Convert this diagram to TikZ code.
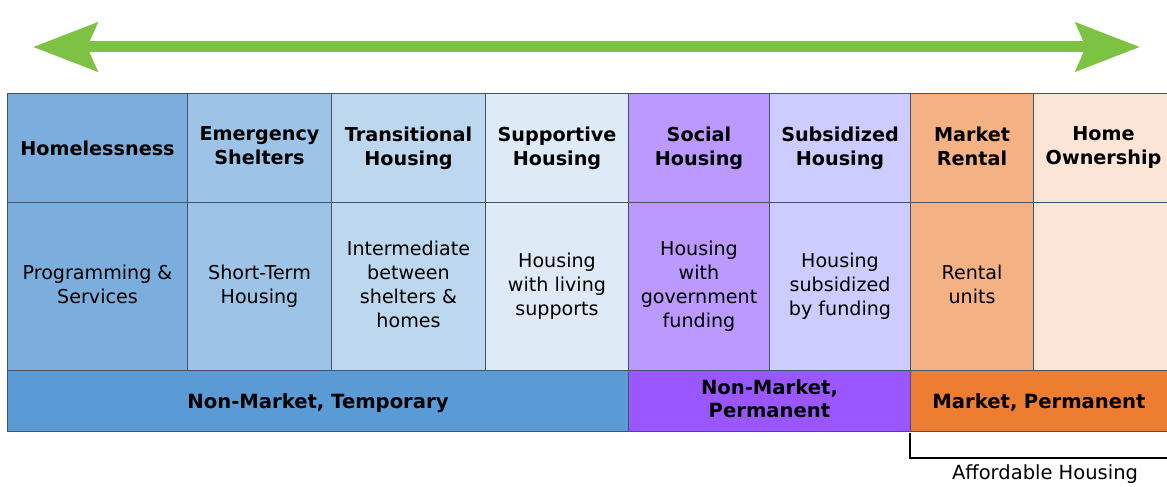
\documentclass[tikz,border=0pt]{standalone}
\usepackage{fontspec}
\setmainfont{DejaVu Sans}
\usetikzlibrary{arrows.meta}
\definecolor{arrowgreen}{HTML}{7DC242}
\definecolor{gridc}{HTML}{44546A}
\definecolor{cHomeless}{HTML}{7BAEDC}
\definecolor{cEmergency}{HTML}{9DC3E6}
\definecolor{cTransit}{HTML}{BDD7EE}
\definecolor{cSupport}{HTML}{DEEBF7}
\definecolor{cSocial}{HTML}{BB99FF}
\definecolor{cSubsid}{HTML}{CCCCFF}
\definecolor{cRental}{HTML}{F4B183}
\definecolor{cOwner}{HTML}{FBE5D6}
\definecolor{cTemp}{HTML}{5B9BD5}
\definecolor{cPerm}{HTML}{9B57FF}
\definecolor{cMarket}{HTML}{ED7D31}
\tikzset{
  cell/.style={draw=gridc, line width=1pt, anchor=north west, inner sep=0pt, align=center, text=black,
    execute at begin node={\rule{0pt}{19.8pt}}, execute at end node={\rule[-4.2pt]{0pt}{4.2pt}}},
  head/.style={cell, minimum height=109pt, font=\fontsize{19.2}{24}\selectfont\bfseries},
  body/.style={cell, minimum height=168pt, font=\fontsize{19.1}{24}\selectfont},
  band/.style={cell, minimum height=61pt, font=\fontsize{19.6}{23}\selectfont\bfseries}
}

\begin{document}
\begin{tikzpicture}[x=1pt,y=-1pt]
        \clip (0,0) rectangle (1167,487);
        \fill[white] (0,0) rectangle (1167,487);
        \coordinate(arrL) at (33,47);
        \coordinate(arrR) at (1140,47);
        \draw[arrowgreen, line width=11pt, {Stealth[length=64pt, width=48pt, inset=10pt]}-{Stealth[length=64pt, width=48pt, inset=10pt]}] (arrL)--(arrR);
        \node[head, fill=cHomeless, minimum width=180pt](hHomeless) at (7,93) {Homelessness};
        \node[head, fill=cEmergency, minimum width=144pt](hEmergency) at (187,93) {Emergency\\Shelters};
        \node[head, fill=cTransit, minimum width=154pt](hTransit) at (331,93) {Transitional\\Housing};
        \node[head, fill=cSupport, minimum width=143pt](hSupport) at (485,93) {Supportive\\Housing};
        \node[head, fill=cSocial, minimum width=141pt](hSocial) at (628,93) {Social\\Housing};
        \node[head, fill=cSubsid, minimum width=141pt](hSubsid) at (769,93) {Subsidized\\Housing};
        \node[head, fill=cRental, minimum width=123pt](hRental) at (910,93) {Market\\Rental};
        \node[head, fill=cOwner, minimum width=140pt](hOwner) at (1033,93) {Home\\Ownership};
        \node[body, fill=cHomeless, minimum width=180pt](bHomeless) at (7,202) {Programming \&\\Services};
        \node[body, fill=cEmergency, minimum width=144pt](bEmergency) at (187,202) {Short-Term\\Housing};
        \node[body, fill=cTransit, minimum width=154pt](bTransit) at (331,202) {Intermediate\\between\\shelters \&\\homes};
        \node[body, fill=cSupport, minimum width=143pt](bSupport) at (485,202) {Housing\\with living\\supports};
        \node[body, fill=cSocial, minimum width=141pt](bSocial) at (628,202) {Housing\\with\\government\\funding};
        \node[body, fill=cSubsid, minimum width=141pt](bSubsid) at (769,202) {Housing\\subsidized\\by funding};
        \node[body, fill=cRental, minimum width=123pt](bRental) at (910,202) {Rental\\units};
        \node[body, fill=cOwner, minimum width=140pt](bOwner) at (1033,202) {};
        \node[band, fill=cTemp, minimum width=621pt](tTemp) at (7,370) {Non-Market, Temporary};
        \node[band, fill=cPerm, minimum width=282pt](tPerm) at (628,370) {Non-Market,\\Permanent};
        \node[band, fill=cMarket, minimum width=263pt, text width=263pt](tMarket) at (910,370) {\hspace*{-6pt}Market, Permanent};
        \coordinate(brTop) at (910,433);
        \coordinate(brEnd) at (1175,458);
        \draw[line width=2pt] (brTop)|-(brEnd);
        \node[font=\fontsize{19.5}{22}\selectfont](afford) at (1045,474) {Affordable Housing};
\end{tikzpicture}
\end{document}
